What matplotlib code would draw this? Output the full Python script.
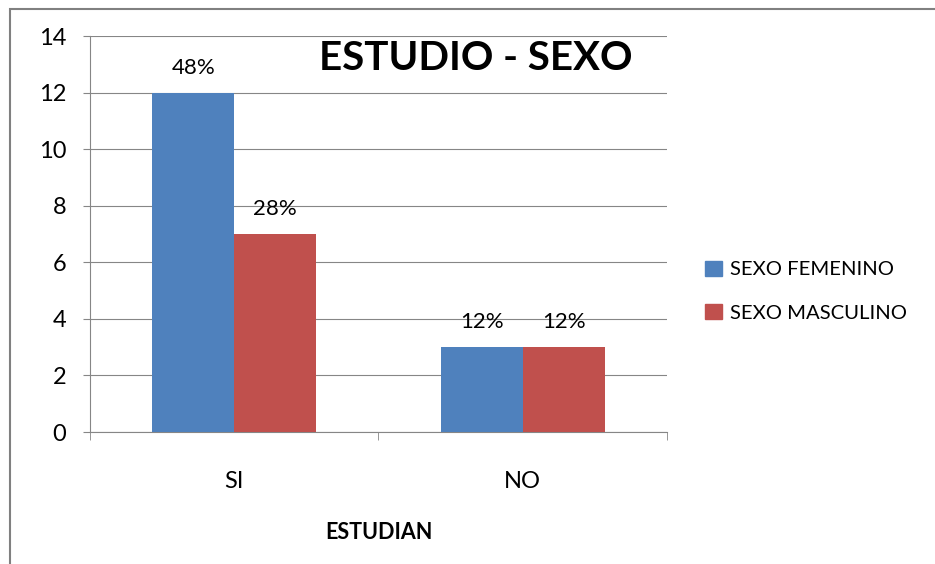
import matplotlib
matplotlib.use("Agg")
import matplotlib.pyplot as plt
import matplotlib.patches as mpatches
import numpy as np

plt.rcParams['font.family'] = ['Lato', 'DejaVu Sans']

# data
categories = ['SI', 'NO']
series_names = ['SEXO FEMENINO', 'SEXO MASCULINO']
femenino = [12, 3]
masculino = [7, 3]
pct_femenino = ['48%', '12%']
pct_masculino = ['28%', '12%']
yticks = [0, 2, 4, 6, 8, 10, 12, 14]

blue = '#4f81bd'
red = '#c0504d'
grid_col = '#868686'

fig = plt.figure(figsize=(9.35, 5.64), dpi=100)
ax = fig.add_axes([0.0963, 0.234, 0.617, 0.702])

# outer chart border (runs off right/bottom edge like the original)
fig.patches.append(mpatches.Rectangle((10 / 935, -0.1), 2, 1 - 9 / 564 + 0.1,
                                      transform=fig.transFigure, fill=False,
                                      edgecolor='#808080', linewidth=1.5))

x = np.arange(len(categories))
w = 0.285
b1 = ax.bar(x - w / 2, femenino, w, color=blue, zorder=3)
b2 = ax.bar(x + w / 2, masculino, w, color=red, zorder=3)

for bars, labs in ((b1, pct_femenino), (b2, pct_masculino)):
    for r, lab in zip(bars, labs):
        ax.annotate(lab, (r.get_x() + r.get_width() / 2, r.get_height()),
                    xytext=(0, 18), textcoords='offset points',
                    ha='center', va='center', fontsize=16)

ax.set_xlim(-0.5, 1.5)
ax.set_ylim(0, 14)
ax.set_yticks(yticks)
ax.yaxis.grid(True, color=grid_col, linewidth=0.8, zorder=0)
ax.tick_params(axis='y', length=5, color=grid_col, labelsize=17, pad=12)

ax.set_xticks(x)
ax.set_xticklabels(categories, fontsize=17)
ax.tick_params(axis='x', length=0, pad=28)
ax.set_xticks([-0.5, 0.5, 1.5], minor=True)
ax.tick_params(axis='x', which='minor', length=6, color=grid_col)

for s in ('top', 'right'):
    ax.spines[s].set_visible(False)
for s in ('left', 'bottom'):
    ax.spines[s].set_color(grid_col)

ax.set_xlabel('ESTUDIAN', fontsize=15.5, fontweight='bold', labelpad=22)

fig.text(476 / 935, 1 - 58 / 564, 'ESTUDIO - SEXO', fontsize=29,
         fontweight='bold', ha='center', va='center')

handles = [mpatches.Patch(color=blue), mpatches.Patch(color=red)]
fig.legend(handles, series_names, loc='center left',
           bbox_to_anchor=(0.735, 0.484), frameon=False, fontsize=14.6,
           handlelength=0.8, handleheight=0.8, handletextpad=0.4,
           labelspacing=1.25)

fig.savefig('out.png', dpi=100)
